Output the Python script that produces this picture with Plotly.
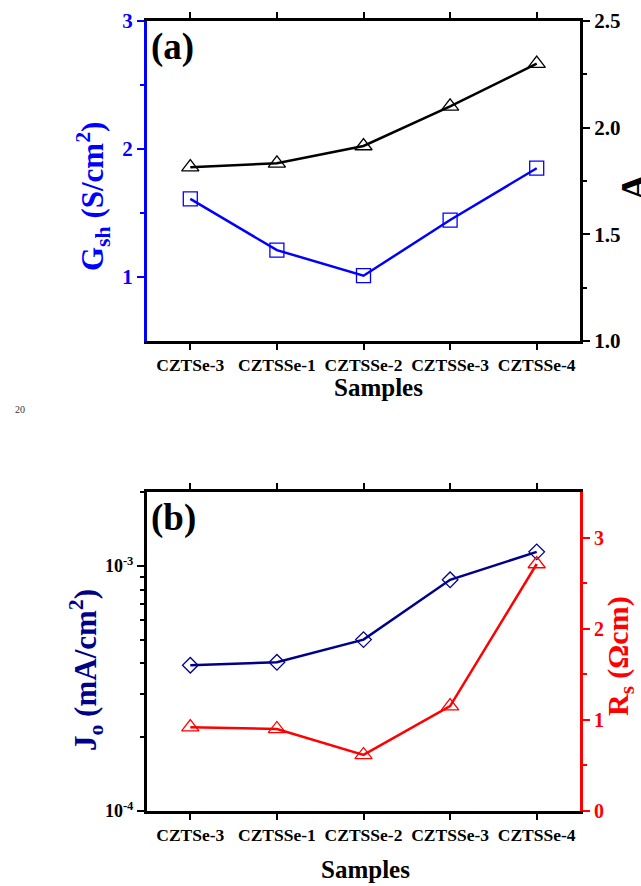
import plotly.graph_objects as go
import numpy as np

samples = ["CZTSe-3", "CZTSSe-1", "CZTSSe-2", "CZTSSe-3", "CZTSSe-4"]
gsh = [1.61, 1.21, 1.01, 1.445, 1.85]
ideality_A = [1.815, 1.833, 1.914, 2.10, 2.30]
j0 = [3.93e-4, 4.04e-4, 5.0e-4, 8.77e-4, 1.14e-3]
rs = [0.92, 0.90, 0.615, 1.15, 2.71]

FONT = "Liberation Serif"
BLUE = "#0000ff"
NAVY = "#00008b"
RED = "#ff0000"

fig = go.Figure()

fig.add_trace(go.Scatter(x=samples, y=gsh, mode="lines+markers", xaxis="x", yaxis="y",
                         line=dict(color=BLUE, width=2.5),
                         marker=dict(symbol="square-open", size=14, color=BLUE, line=dict(width=1.3))))
fig.add_trace(go.Scatter(x=samples, y=ideality_A, mode="lines+markers", xaxis="x", yaxis="y2",
                         line=dict(color="black", width=2.5),
                         marker=dict(symbol="triangle-up-open", size=15, color="black", line=dict(width=1.3))))
fig.add_trace(go.Scatter(x=samples, y=j0, mode="lines+markers", xaxis="x2", yaxis="y3",
                         line=dict(color=NAVY, width=2.5),
                         marker=dict(symbol="diamond-open", size=12, color=NAVY, line=dict(width=1.3))))
fig.add_trace(go.Scatter(x=samples, y=rs, mode="lines+markers", xaxis="x2", yaxis="y4",
                         line=dict(color=RED, width=2.5),
                         marker=dict(symbol="triangle-up-open", size=15, color=RED, line=dict(width=1.3))))

xd = [147/641, 580/641]
yda = [1-341/886, 1-21/886]
ydb = [1-811/886, 1-492/886]

def px(xp):
    return xp/641

def py(yp):
    return 1-yp/886

tickfont_x = dict(family=FONT, size=17.5, color="black", weight="bold")

common_x = dict(type="category", range=[-0.5, 4.5], showline=True, linewidth=3, linecolor="black",
                mirror="ticks", ticks="outside", ticklen=6, tickwidth=2, tickcolor="black",
                tickfont=tickfont_x, showgrid=False, zeroline=False, automargin=False)

minor_log = [i*1e-4 for i in range(2, 10)] + [2e-3]

def ytitle(text, x, y, size, color, xanchor="center"):
    return dict(text=text, x=px(x), y=py(y), xref="paper", yref="paper", xanchor=xanchor, yanchor="middle",
                textangle=-90, showarrow=False, font=dict(family=FONT, size=size, color=color, weight="bold"))

fig.update_layout(
    width=641, height=886, margin=dict(l=0, r=0, t=0, b=0, pad=0),
    paper_bgcolor="white", plot_bgcolor="white", showlegend=False,
    xaxis=dict(domain=xd, anchor="y", **common_x),
    yaxis=dict(domain=yda, anchor="x", range=[0.5, 3], tickvals=[1, 2, 3], showline=True, linewidth=3,
               linecolor=BLUE, ticks="outside", ticklen=7, tickwidth=2, tickcolor=BLUE, automargin=False,
               minor=dict(tickvals=[1.5, 2.5], ticks="outside", ticklen=4, tickwidth=2, tickcolor=BLUE),
               tickfont=dict(family=FONT, size=21, color=BLUE, weight="bold"), showgrid=False, zeroline=False),
    yaxis2=dict(domain=yda, anchor="x", overlaying="y", side="right", range=[1.0, 2.5],
                tickvals=[1.0, 1.5, 2.0, 2.5], ticktext=["1.0", "1.5", "2.0", "2.5"], automargin=False,
                showline=True, linewidth=3, linecolor="black", ticks="outside", ticklen=7, tickwidth=2, tickcolor="black",
                minor=dict(tickvals=[1.25, 1.75, 2.25], ticks="outside", ticklen=4, tickwidth=2, tickcolor="black"),
                tickfont=dict(family=FONT, size=21, color="black", weight="bold"), showgrid=False, zeroline=False),
    xaxis2=dict(domain=xd, anchor="y3", **common_x),
    yaxis3=dict(domain=ydb, anchor="x2", type="log", range=[-4, np.log10(2e-3)], automargin=False,
                tickvals=[1e-4, 1e-3], ticktext=["10<sup>-4</sup>", "10<sup>-3</sup>"],
                showline=True, linewidth=3, linecolor="black", ticks="outside", ticklen=7, tickwidth=2, tickcolor="black",
                minor=dict(tickvals=minor_log, ticks="outside", ticklen=4, tickwidth=2, tickcolor="black"),
                tickfont=dict(family=FONT, size=18, color="black", weight="bold"), showgrid=False, zeroline=False),
    yaxis4=dict(domain=ydb, anchor="x2", overlaying="y3", side="right", range=[0, 3.5], automargin=False,
                tickvals=[0, 1, 2, 3], showline=True, linewidth=3, linecolor=RED,
                ticks="outside", ticklen=7, tickwidth=2, tickcolor=RED,
                minor=dict(tickvals=[0.5, 1.5, 2.5], ticks="outside", ticklen=4, tickwidth=2, tickcolor=RED),
                tickfont=dict(family=FONT, size=20, color=RED, weight="bold"), showgrid=False, zeroline=False),
    annotations=[
        ytitle("G<sub>sh</sub> (S/cm<sup>2</sup>)", 93, 197, 31, BLUE),
        ytitle("A", 611, 187, 38, "black", xanchor="left"),
        ytitle("J<sub>o</sub> (mA/cm<sup>2</sup>)", 86, 670, 31, NAVY),
        ytitle("R<sub>s</sub> (Ωcm)", 620, 656, 30, RED),
        dict(text="Samples", x=px(378), y=py(388), xref="paper", yref="paper", xanchor="center", yanchor="middle",
             showarrow=False, font=dict(family=FONT, size=25, color="black", weight="bold")),
        dict(text="Samples", x=px(365), y=py(869), xref="paper", yref="paper", xanchor="center", yanchor="middle",
             showarrow=False, font=dict(family=FONT, size=25, color="black", weight="bold")),
        dict(text="(a)", x=px(149), y=py(47), xref="paper", yref="paper", xanchor="left", yanchor="middle",
             showarrow=False, font=dict(family=FONT, size=37, color="black", weight="bold")),
        dict(text="(b)", x=px(149), y=py(518), xref="paper", yref="paper", xanchor="left", yanchor="middle",
             showarrow=False, font=dict(family=FONT, size=37, color="black", weight="bold")),
        dict(text="20", x=px(20), y=py(409), xref="paper", yref="paper", xanchor="center", yanchor="middle",
             showarrow=False, font=dict(family=FONT, size=10, color="#333333")),
    ],
)

fig.write_html("out.html")
